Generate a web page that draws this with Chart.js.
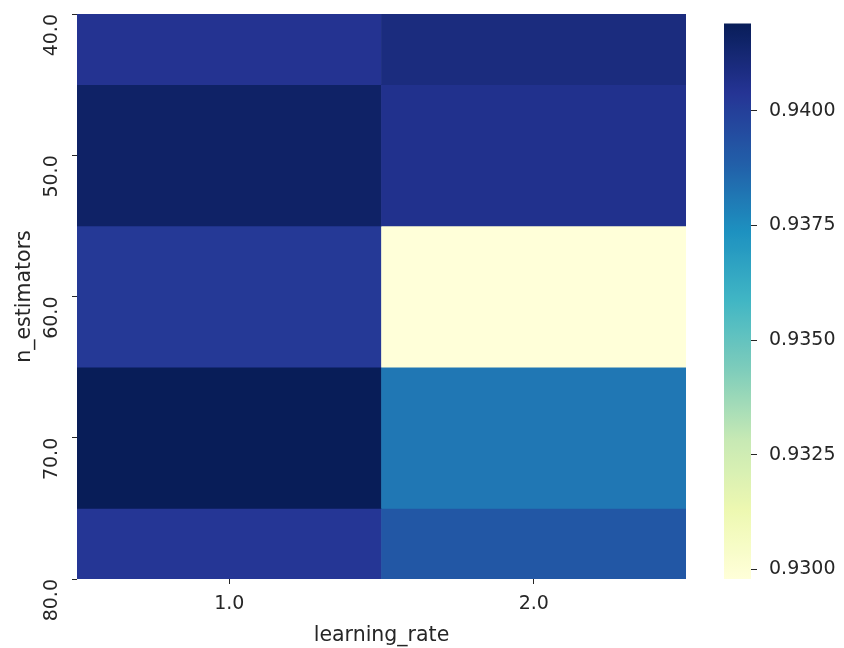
<!DOCTYPE html>
<html>
<head>
<meta charset="utf-8">
<script src="https://cdn.jsdelivr.net/npm/chart.js@4/dist/chart.umd.min.js"></script>
<style>
  html, body { margin: 0; padding: 0; background: #ffffff; }
  #wrap { position: relative; width: 844px; height: 648px; overflow: hidden; }
  #heat { position: absolute; left: 0; top: 0; }
  #cbar { position: absolute; left: 700px; top: 0; }
</style>
</head>
<body>
<div id="wrap">
  <canvas id="heat" width="700" height="648"></canvas>
  <canvas id="cbar" width="144" height="648"></canvas>
</div>
<script>
// Grid-search results: mean score per (n_estimators, learning_rate)
const nEstimators   = [40, 50, 60, 70, 80];
const learningRates = ['1.0', '2.0'];
const yTickLabels   = ['40.0', '50.0', '60.0', '70.0', '80.0'];
const scoreLr1      = [0.94046, 0.94155, 0.94021, 0.94191, 0.94033];
const scoreLr2      = [0.94094, 0.94058, 0.92979, 0.93815, 0.93912];
const cbarTicks     = [0.9300, 0.9325, 0.9350, 0.9375, 0.9400];

const FONT = 'DejaVu Sans';
const TICK_SIZE = 19;
const TITLE_SIZE = 20.5;
const TEXT = '#262626';
const TICK = '#262626';

// YlGnBu colour ramp
const YLGNBU = ['#ffffd9', '#edf8b1', '#c7e9b4', '#7fcdbb', '#41b6c4',
                '#1d91c0', '#225ea8', '#253494', '#081d58'];
function hexRgb(h) {
  return [parseInt(h.slice(1, 3), 16), parseInt(h.slice(3, 5), 16), parseInt(h.slice(5, 7), 16)];
}
const RAMP = YLGNBU.map(hexRgb);
function cmap(t) {
  t = Math.max(0, Math.min(1, t));
  const s = t * (RAMP.length - 1);
  const i = Math.min(RAMP.length - 2, Math.floor(s));
  const f = s - i;
  const a = RAMP[i], b = RAMP[i + 1];
  const c = a.map((v, k) => Math.round(v + (b[k] - v) * f));
  return 'rgb(' + c.join(',') + ')';
}

const allScores = scoreLr1.concat(scoreLr2);
const vmin = Math.min(...allScores);
const vmax = Math.max(...allScores);
const colorOf = v => cmap((v - vmin) / (vmax - vmin));

const yMin = nEstimators[0];
const yMax = nEstimators[nEstimators.length - 1];
const half = (nEstimators[1] - nEstimators[0]) / 2;

// one floating-bar dataset per n_estimators row
const rowDatasets = nEstimators.map((n, i) => {
  const span = [Math.max(yMin, n - half), Math.min(yMax, n + half)];
  return {
    label: String(n),
    data: [span, span],
    backgroundColor: [colorOf(scoreLr1[i]), colorOf(scoreLr2[i])],
    borderWidth: 0,
    grouped: false,
    barPercentage: 1,
    categoryPercentage: 1
  };
});

// rotated y tick labels and both axis titles
const heatText = {
  id: 'heatText',
  afterDraw(chart) {
    const ctx = chart.ctx;
    const ys = chart.scales.y;
    const area = chart.chartArea;
    ctx.save();
    ctx.fillStyle = TEXT;
    ctx.font = TICK_SIZE + 'px "' + FONT + '"';
    ctx.textBaseline = 'alphabetic';
    nEstimators.forEach((n, i) => {
      const py = ys.getPixelForValue(n);
      ctx.save();
      ctx.translate(57, py);
      ctx.rotate(-Math.PI / 2);
      ctx.textAlign = 'right';
      ctx.fillText(yTickLabels[i], 0, 0);
      ctx.restore();
    });
    // axis titles
    ctx.font = TITLE_SIZE + 'px "' + FONT + '"';
    ctx.save();
    ctx.translate(30, (area.top + area.bottom) / 2);
    ctx.rotate(-Math.PI / 2);
    ctx.textAlign = 'center';
    ctx.fillText('n_estimators', 0, 0);
    ctx.restore();
    ctx.textAlign = 'center';
    ctx.fillText('learning_rate', (area.left + area.right) / 2, 641);
    ctx.restore();
  }
};

new Chart(document.getElementById('heat'), {
  type: 'bar',
  data: { labels: learningRates, datasets: rowDatasets },
  options: {
    responsive: false,
    devicePixelRatio: 1,
    animation: false,
    events: [],
    layout: { padding: { top: 14, right: 14, left: 0, bottom: 0 } },
    plugins: { legend: { display: false }, tooltip: { enabled: false } },
    scales: {
      x: {
        type: 'category',
        offset: true,
        border: { display: false },
        grid: { offset: false, drawOnChartArea: false, drawTicks: true, tickLength: 5, tickColor: TICK, tickWidth: 1 },
        ticks: { color: TEXT, font: { family: FONT, size: TICK_SIZE }, padding: 9, maxRotation: 0, minRotation: 0 },
        afterFit(s) { s.height = 69; }
      },
      y: {
        type: 'linear',
        reverse: true,
        min: yMin,
        max: yMax,
        border: { display: false },
        grid: { drawOnChartArea: false, drawTicks: true, tickLength: 5, tickColor: TICK, tickWidth: 1 },
        ticks: { display: false, stepSize: nEstimators[1] - nEstimators[0] },
        afterFit(s) { s.width = 77; }
      }
    }
  },
  plugins: [heatText]
});

// colour bar: one floating bar filled with the ramp along the value scale
function rampGradient(ctx) {
  const chart = ctx.chart;
  const ys = chart.scales.y;
  if (!chart.chartArea || !ys) return YLGNBU[4];
  const g = chart.ctx.createLinearGradient(0, ys.getPixelForValue(vmin), 0, ys.getPixelForValue(vmax));
  const steps = 64;
  for (let k = 0; k <= steps; k++) g.addColorStop(k / steps, cmap(k / steps));
  return g;
}

new Chart(document.getElementById('cbar'), {
  type: 'bar',
  data: {
    labels: [''],
    datasets: [{
      data: [[vmin, vmax]],
      borderWidth: 0,
      barPercentage: 1,
      categoryPercentage: 1,
      backgroundColor: rampGradient
    }]
  },
  options: {
    responsive: false,
    devicePixelRatio: 1,
    animation: false,
    events: [],
    layout: { padding: { top: 14, right: 0, left: 24, bottom: 69 } },
    plugins: { legend: { display: false }, tooltip: { enabled: false } },
    scales: {
      x: { display: false, offset: true },
      y: {
        type: 'linear',
        position: 'right',
        min: vmin,
        max: vmax,
        border: { display: false },
        grid: { drawOnChartArea: false, drawTicks: true, tickLength: 6, tickColor: TICK, tickWidth: 1 },
        afterBuildTicks(s) { s.ticks = cbarTicks.map(v => ({ value: v })); },
        ticks: {
          color: TEXT,
          font: { family: FONT, size: TICK_SIZE },
          padding: 12,
          callback: v => Number(v).toFixed(4)
        },
        afterFit(s) { s.width = 93; }
      }
    }
  }
});
</script>
</body>
</html>
